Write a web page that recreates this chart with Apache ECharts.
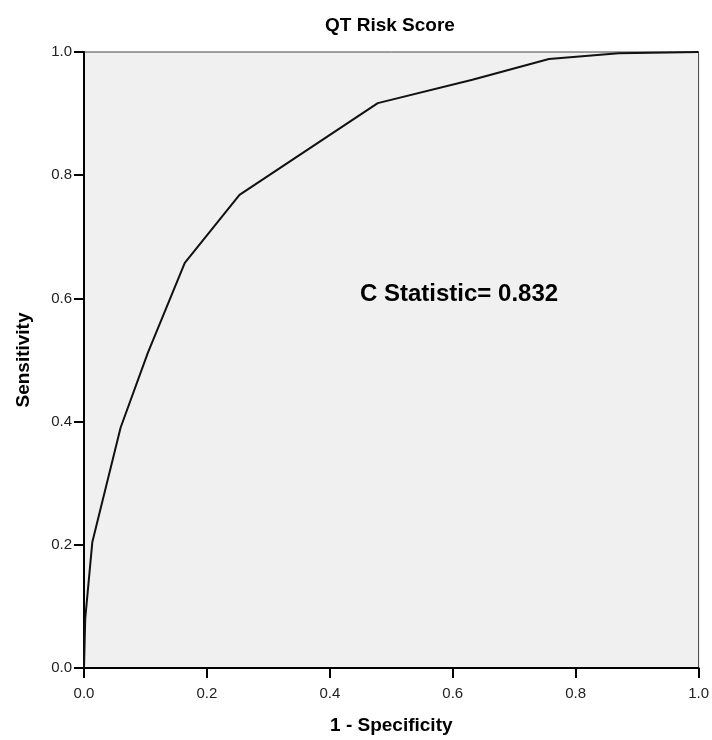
<!DOCTYPE html>
<html>
<head>
<meta charset="utf-8">
<script src="https://cdn.jsdelivr.net/npm/echarts@6/dist/echarts.min.js"></script>
<style>
  html, body { margin: 0; padding: 0; background: #fff; }
  #chart { width: 712px; height: 740px; }
</style>
</head>
<body>
<div id="chart"></div>
<script>
// ROC curve: 1 - specificity vs sensitivity
const fpr = [0.0, 0.002, 0.0135, 0.0595, 0.104, 0.164, 0.253, 0.478, 0.632, 0.7565, 0.870, 1.0]
const tpr = [0.0, 0.08, 0.204, 0.390, 0.512, 0.6575, 0.768, 0.917, 0.955, 0.9886, 0.998, 1.0]
const axisTicks = [0, 0.2, 0.4, 0.6, 0.8, 1.0]

const chartTitle = 'QT Risk Score'
const xTitle = '1 - Specificity'
const yTitle = 'Sensitivity'
const statText = 'C Statistic= 0.832'

const FONT = '"Liberation Sans", Arial, Helvetica, sans-serif'

const chart = echarts.init(document.getElementById('chart'), null, { renderer: 'canvas' })

const axisCommon = {
  type: 'value',
  min: 0,
  max: 1,
  interval: 0.2,
  axisLine: { show: true, lineStyle: { color: '#000', width: 2 } },
  axisTick: { show: true, inside: false, length: 10, lineStyle: { color: '#000', width: 2 } },
  axisLabel: {
    color: '#222',
    fontSize: 15,
    fontFamily: FONT,
    formatter: v => v.toFixed(1),
  },
  splitLine: { show: false },
  nameLocation: 'middle',
  nameTextStyle: { color: '#000', fontSize: 19, fontWeight: 'bold', fontFamily: FONT },
}

chart.setOption({
  animation: false,
  backgroundColor: '#fff',
  grid: {
    left: 84,
    right: 12,
    top: 52,
    bottom: 71,
    show: true,
    backgroundColor: '#f0f0f0',
    borderColor: '#444',
    borderWidth: 1,
  },
  graphic: [
    {
      type: 'text',
      left: 325,
      top: 16,
      style: { text: chartTitle, fill: '#000', font: 'bold 19px ' + FONT },
    },
    {
      type: 'text',
      left: 360,
      top: 282,
      style: { text: statText, fill: '#000', font: 'bold 24px ' + FONT },
    },
  ],
  xAxis: {
    ...axisCommon,
    name: xTitle,
    nameGap: 48,
    axisLabel: { ...axisCommon.axisLabel, margin: 18 },
  },
  yAxis: {
    ...axisCommon,
    name: yTitle,
    nameGap: 51,
    axisLabel: { ...axisCommon.axisLabel, margin: 12 },
  },
  series: [
    {
      type: 'line',
      data: fpr.map((x, i) => [x, tpr[i]]),
      symbol: 'none',
      smooth: false,
      lineStyle: { color: '#111', width: 2 },
      z: 3,
    },
  ],
})
</script>
</body>
</html>
